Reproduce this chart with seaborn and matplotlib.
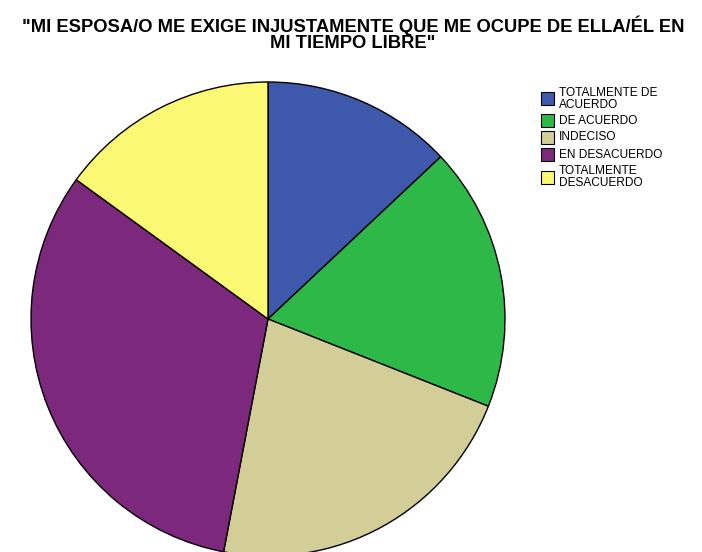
import matplotlib
matplotlib.use("Agg")
import matplotlib.pyplot as plt
import seaborn as sns
from matplotlib.patches import Rectangle

categories = ["TOTALMENTE DE\nACUERDO", "DE ACUERDO", "INDECISO",
              "EN DESACUERDO", "TOTALMENTE\nDESACUERDO"]
percentages = [13.0, 18.0, 22.0, 32.0, 15.0]
colors = ["#3E58AC", "#2EB848", "#D3CE97", "#7C287D", "#FBF873"]
title = "\"MI ESPOSA/O ME EXIGE INJUSTAMENTE QUE ME OCUPE DE ELLA/ÉL EN\nMI TIEMPO LIBRE\""

sns.set_theme(style="white")
plt.rcParams["font.family"] = ["Liberation Sans", "DejaVu Sans"]

W, H = 702, 552
fig = plt.figure(figsize=(W / 100, H / 100), dpi=100)
fig.patch.set_facecolor("white")

# pie axes: centre and radius in pixels
cx, cy, r = 268, 319, 237
ax = fig.add_axes([(cx - r) / W, (H - cy - r) / H, 2 * r / W, 2 * r / H])
ax.pie(percentages, colors=colors, startangle=90, counterclock=False,
       radius=1.0, wedgeprops=dict(edgecolor="black", linewidth=1.0))
ax.set_xlim(-1, 1)
ax.set_ylim(-1, 1)
ax.set_aspect("equal")
ax.axis("off")

fig.text(353 / W, 1 - 16 / H, title, ha="center", va="top", fontsize=13.2,
         fontweight="bold", linespacing=0.88, color="black")

# legend drawn in pixel coordinates (top-left origin)
def px(x, y):
    return x / W, 1 - y / H

y_top = 87
for label, color in zip(categories, colors):
    n = label.count("\n") + 1
    yc = y_top + (10 + (n - 1) * 12) / 2
    x0, y0 = px(541, yc + 6.5)
    fig.patches.append(Rectangle((x0, y0), 13 / W, 13 / H, transform=fig.transFigure,
                                 facecolor=color, edgecolor="black", linewidth=0.8))
    tx, ty = px(559, yc + 0.5)
    fig.text(tx, ty, label, ha="left", va="center", fontsize=8.6,
             linespacing=1.0, color="black")
    y_top += 17 + (n - 1) * 11

fig.savefig("out.png", dpi=100, facecolor="white")
